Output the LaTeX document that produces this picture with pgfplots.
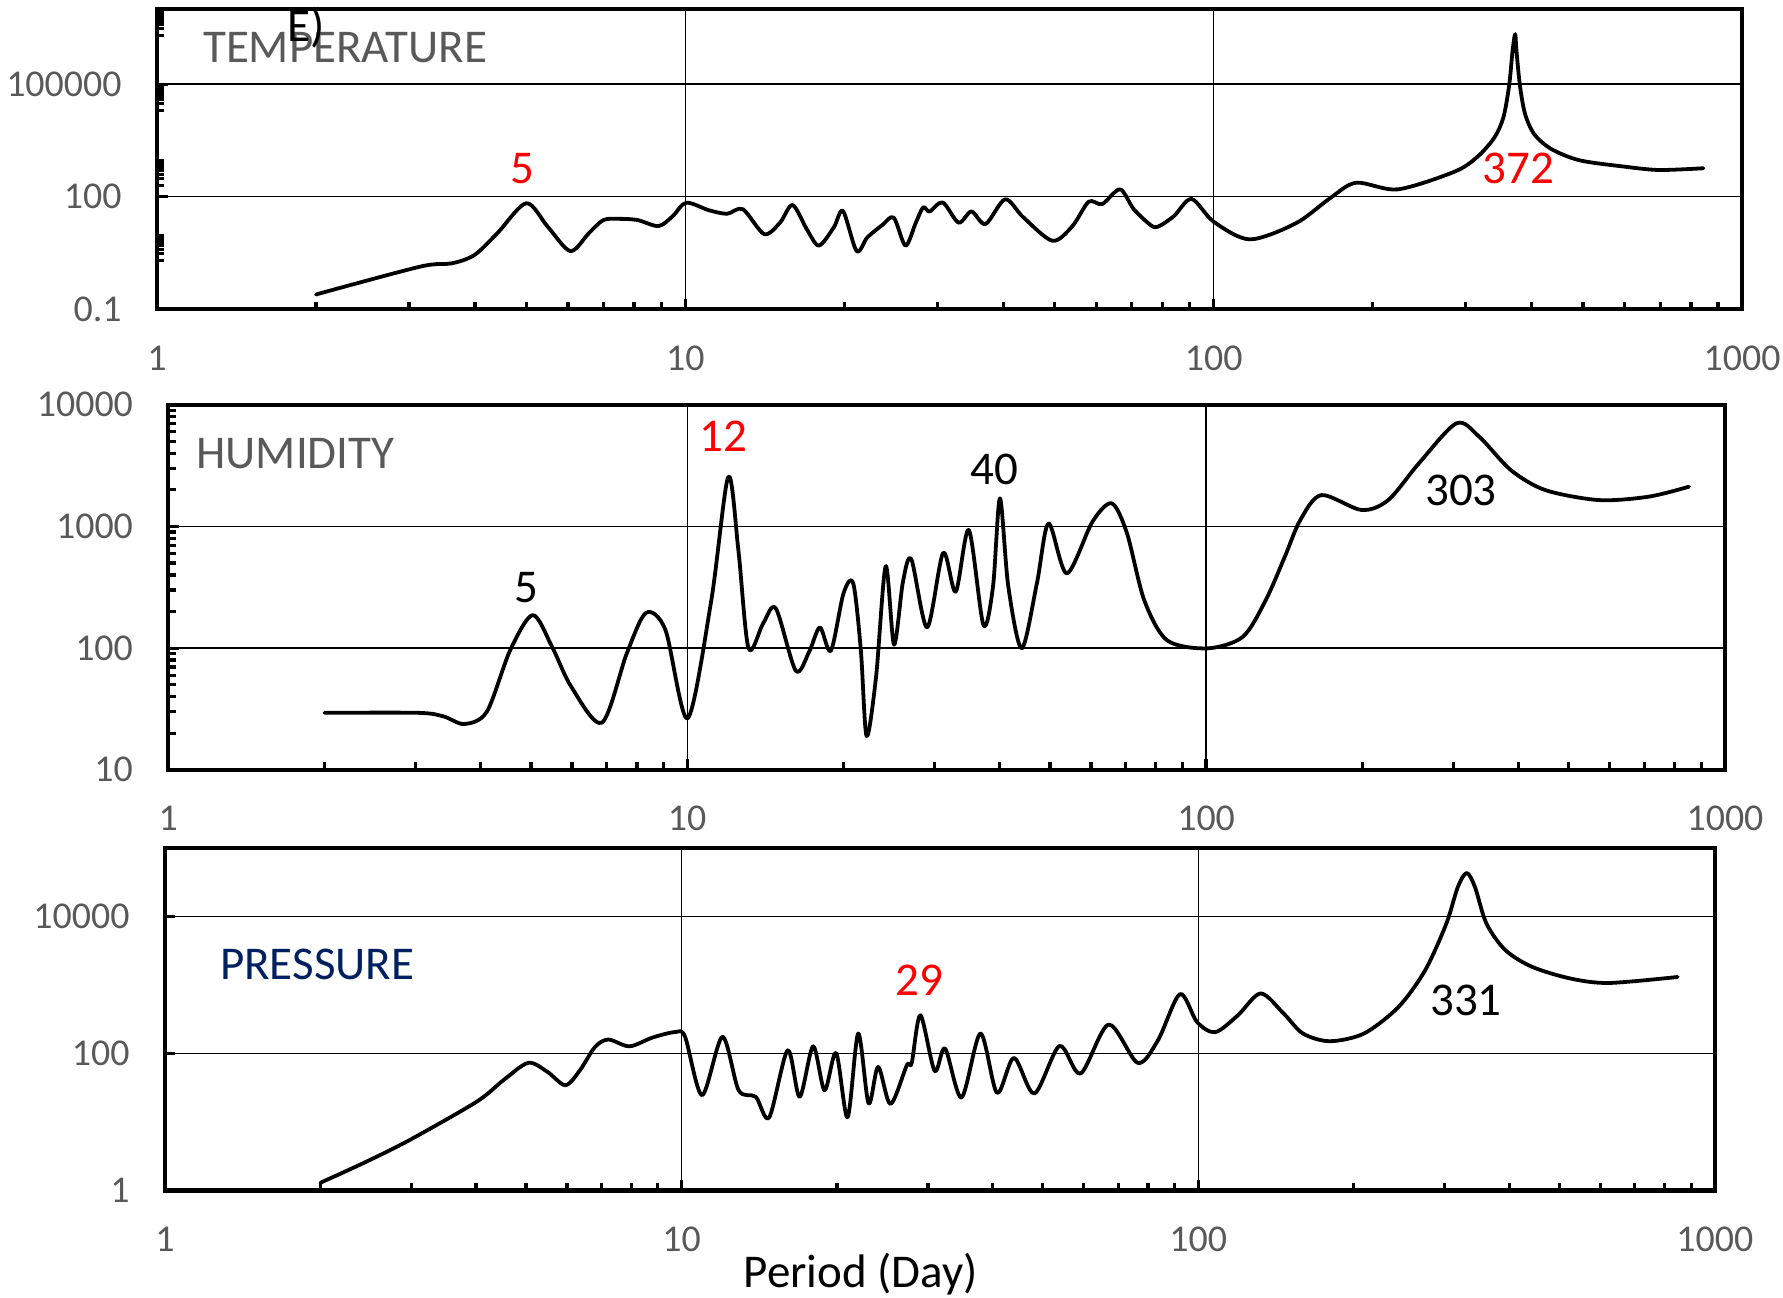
\documentclass[border=0pt]{standalone}
\usepackage{pgfplots}
\pgfplotsset{compat=1.18}
\usepackage{fontspec}
\setmainfont{Carlito}

\definecolor{tickgrey}{HTML}{595959}
\definecolor{navy}{HTML}{002060}
\definecolor{peakred}{HTML}{FF0000}

\tikzset{
  psdline/.style={black, line width=1.0pt, smooth, line join=round, line cap=round},
  paneltitle/.style={font=\fontsize{12.4}{15}\selectfont, anchor=west, inner sep=0pt},
  peaklabel/.style={font=\fontsize{12.4}{15}\selectfont, inner sep=0pt},
}

\begin{document}
\begin{tikzpicture}
\useasboundingbox (0,0) rectangle (470.4pt,342.3pt);

% ---------------- temperature spectrum ----------------
\begin{axis}[
  scale only axis, xmode=log, ymode=log, xmin=1, xmax=1000, clip=false,
  axis line style={line width=1.1pt}, tick align=inside,
  xtick pos=left, ytick pos=left,
  xtick={1,10,100,1000}, xticklabels={1,10,100,1000},
  minor xtick={2,3,4,5,6,7,8,9,20,30,40,50,60,70,80,90,200,300,400,500,600,700,800,900},
  major tick length=2.8pt, minor tick length=2.0pt,
  tick style={black, line width=0.85pt},
  grid=major, major grid style={black, line width=0.35pt},
  tick label style={font=\fontsize{10}{12}\selectfont, text=tickgrey},
  xticklabel shift=6.1pt, yticklabel shift=5.8pt,
  at={(41.4pt,260.7pt)}, anchor=south west,
  width=418.2pt, height=79.2pt,
  ymin=0.1, ymax=1e7,
  ytick={0.1,100,100000},
  yticklabels={0.1,100,100000},
  minor ytick={2,3,4,5,6,7,8,9,200,300,400,500,600,700,800,900,
    2e4,3e4,4e4,5e4,6e4,7e4,8e4,9e4,2e6,3e6,4e6,5e6,6e6,7e6,8e6,9e6},
]
\addplot[psdline, mark=none] coordinates {
  (2.00,0.248) (3.15,1.37) (3.61,1.67) (3.99,2.79) (4.41,10.7) (5.00,67)
  (5.49,15.9) (6.06,3.56) (6.57,10.7) (7.0,23.9) (7.5,25.7) (8.12,23.9)
  (8.9,16.5) (9.47,30.5) (10.04,69) (11.1,43.3) (12.0,35.1) (12.85,46.4)
  (14.1,10.1) (15.1,20.1) (15.96,60) (17.0,13.2) (17.9,4.98) (19.1,15.2)
  (19.88,41.5) (21.1,3.56) (22.1,8.2) (23.6,17.6) (24.8,27.7) (26.1,4.98)
  (27.3,20.1) (28.2,52) (29.0,40.4) (30.7,70.5) (32.9,20.4) (34.8,40.4)
  (37.0,18.7) (40.3,85) (43.6,28.5) (49.5,6.7) (54.0,16.3) (58.0,73.6)
  (61.5,63.5) (66.5,157) (70.6,46.4) (76.0,17.5) (78.5,15.9) (84.1,30.5)
  (90.8,87) (100,21.5) (117,7.3) (143,19.5) (166,90.8) (186,236) (223,157)
  (285.6,464) (315.4,1150) (339.8,3770) (353.5,13200) (362.4,93300)
  (367.8,7.57e5) (372,2.15e6) (374.2,7.57e5) (379.8,93300) (388.3,16300)
  (404.2,4640) (435.2,1875) (492.6,933) (600.5,630) (697,515) (845,573)
};
\node[paneltitle, text=tickgrey] at (axis cs:1.219,9.33e5) {TEMPERATURE};
\node[peaklabel, text=peakred] at (axis cs:4.92,575) {5};
\node[peaklabel, text=peakred] at (axis cs:377,573) {372};
\end{axis}

% ---------------- humidity spectrum ----------------
\begin{axis}[
  scale only axis, xmode=log, ymode=log, xmin=1, xmax=1000, clip=false,
  axis line style={line width=1.1pt}, tick align=inside,
  xtick pos=left, ytick pos=left,
  xtick={1,10,100,1000}, xticklabels={1,10,100,1000},
  minor xtick={2,3,4,5,6,7,8,9,20,30,40,50,60,70,80,90,200,300,400,500,600,700,800,900},
  major tick length=2.8pt, minor tick length=2.0pt,
  tick style={black, line width=0.85pt},
  grid=major, major grid style={black, line width=0.35pt},
  tick label style={font=\fontsize{10}{12}\selectfont, text=tickgrey},
  xticklabel shift=6.1pt, yticklabel shift=5.8pt,
  at={(44.4pt,139.2pt)}, anchor=south west,
  width=410.7pt, height=96.3pt,
  ymin=10, ymax=10000,
  ytick={10,100,1000,10000},
  yticklabels={10,100,1000,10000},
  minor ytick={20,30,40,50,60,70,80,90,200,300,400,500,600,700,800,900,
    2000,3000,4000,5000,6000,7000,8000,9000},
]
\addplot[psdline, mark=none] coordinates {
  (2.00,29.4) (3.03,29.4) (3.39,27.5) (3.72,23.8) (4.11,30.0) (4.56,96.4)
  (5.04,187) (5.49,102.6) (5.98,48.1) (6.85,24.4) (7.65,90.6) (8.33,195)
  (9.08,141) (10.02,26.5) (11.13,248) (12.0,2565) (12.55,640) (13.13,99.6)
  (14.01,160) (14.82,212) (16.19,65.2) (17.18,93.3) (18.02,148) (18.92,95.2)
  (20.01,282) (20.89,341) (21.61,96.4) (22.17,18.95) (23.12,58.2) (24.13,473)
  (25.04,107) (26.05,351) (27.04,537) (29.0,148) (31.14,608) (32.92,291)
  (34.9,935) (37.23,155) (38.85,320) (40.06,1702) (41.58,320) (44.13,99.6)
  (47.2,341) (49.7,1059) (53.9,412) (60.4,1094) (65.8,1549) (70.4,879)
  (76.0,248) (84.1,116) (100.6,99.6) (117.7,124) (130.3,248) (141.8,564)
  (151.9,1130) (166.7,1811) (199.3,1366) (224.4,1648) (257.1,3302)
  (303.7,7042) (336,5470) (386.7,2908) (450.5,1991) (571.8,1648) (713,1758)
  (852.5,2124)
};
\node[paneltitle, text=tickgrey] at (axis cs:1.129,3960) {HUMIDITY};
\node[peaklabel] at (axis cs:4.91,313) {5};
\node[peaklabel, text=peakred] at (axis cs:11.75,5470) {12};
\node[peaklabel] at (axis cs:39.1,2930) {40};
\node[peaklabel] at (axis cs:310,1990) {303};
\end{axis}

% ---------------- pressure spectrum ----------------
\begin{axis}[
  scale only axis, xmode=log, ymode=log, xmin=1, xmax=1000, clip=false,
  axis line style={line width=1.1pt}, tick align=inside,
  xtick pos=left, ytick pos=left,
  xtick={1,10,100,1000}, xticklabels={1,10,100,1000},
  minor xtick={2,3,4,5,6,7,8,9,20,30,40,50,60,70,80,90,200,300,400,500,600,700,800,900},
  major tick length=2.8pt, minor tick length=2.0pt,
  tick style={black, line width=0.85pt},
  grid=major, major grid style={black, line width=0.35pt},
  tick label style={font=\fontsize{10}{12}\selectfont, text=tickgrey},
  xticklabel shift=6.1pt, yticklabel shift=5.8pt,
  at={(43.5pt,28.2pt)}, anchor=south west,
  width=408.9pt, height=90.3pt,
  ymin=1, ymax=1e5,
  ytick={1,100,10000},
  yticklabels={1,100,10000},
  minor y tick style={draw=none},
]
\addplot[psdline, mark=none] coordinates {
  (2.0,1.30) (2.43,2.55) (2.975,5.46) (4.01,19.8) (4.52,40.9)
  (5.05,73.4) (5.50,54.3) (5.96,34.6) (6.36,57.2) (6.80,125) (7.22,161)
  (7.93,128) (8.79,172) (9.73,207) (10.16,176) (10.96,24.8) (12.0,176)
  (12.9,29.2) (13.92,23.4) (14.78,11.7) (16.05,112) (16.93,23.4) (17.98,128)
  (18.92,29.2) (19.92,102.7) (20.96,11.7) (21.98,197) (23.02,18.7) (24.02,64.2)
  (25.38,18.4) (27.3,67.7) (27.9,73.4) (29.0,364) (30.9,55.9) (32.37,119)
  (34.84,22.9) (37.9,197) (40.8,26.8) (44.0,86.8) (48.2,26.2) (53.9,129.7)
  (59.2,51.2) (67.1,266) (76.4,73.4) (83.6,157) (92.2,741) (99.5,290)
  (107.9,206) (119.4,364) (132.1,758) (146.4,385) (159.5,197) (179.7,152)
  (209.4,197) (244.2,481) (275,1652) (302.2,7920) (318.1,27120) (331,43550)
  (343.4,27120) (361.5,7920) (393.5,3238) (443.6,1846) (526,1250)
  (623.7,1078) (847.7,1319)
};
\node[paneltitle, text=navy] at (axis cs:1.275,2010) {PRESSURE};
\node[peaklabel, text=peakred] at (axis cs:28.9,1176) {29};
\node[peaklabel] at (axis cs:330,591) {331};
\end{axis}

% panel tag partly cut by the top edge, and the shared x label
\node[anchor=base west, inner sep=0pt, font=\fontsize{12.4}{15}\selectfont] at (75.6pt,331.3pt) {E)};
\node[anchor=base, inner sep=0pt, font=\fontsize{12.4}{15}\selectfont] at (227.1pt,2.7pt) {Period (Day)};
\end{tikzpicture}
\end{document}
